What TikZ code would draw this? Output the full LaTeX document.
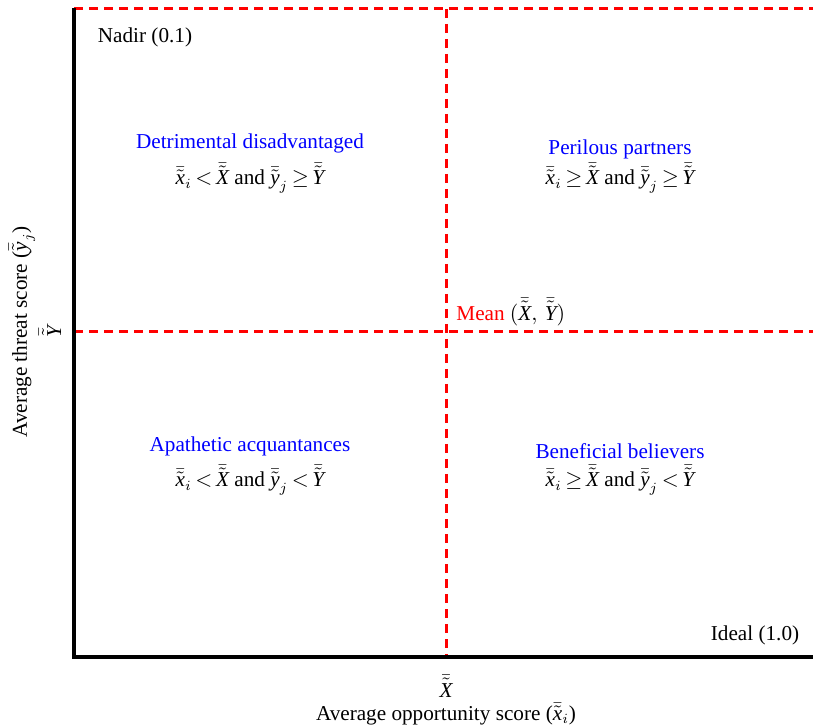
\documentclass[tikz,border=0pt]{standalone}
\usepackage{amsmath, amssymb}
\usepackage{fontspec}
\setmainfont{Liberation Serif}
\usepackage{xcolor}
\usepackage{tikz}
\usetikzlibrary{positioning, calc}
\definecolor{quadblue}{HTML}{0000FF}
\definecolor{meanred}{HTML}{FF0000}
\newcommand{\bt}[1]{\bar{\tilde{\textit{#1}}}}

\begin{document}
\begin{tikzpicture}[
  x=0.5pt, y=-0.5pt,
  every node/.style={font=\fontsize{10.6}{12.7}\selectfont, inner sep=0pt},
  axis/.style={line width=2pt, black},
  meanline/.style={line width=1.5pt, meanred, dash pattern=on 4.5pt off 3pt},
  quad/.style={text=quadblue}
]
  \useasboundingbox (0,0) rectangle (813,726);

  % axes and mean lines
  \coordinate (origin) at (74,657);
  \coordinate (ytop) at (74,8);
  \coordinate (xend) at (813,657);
  \coordinate (topl) at (74,9);
  \coordinate (topr) at (813,9);
  \coordinate (meantop) at (446,9);
  \coordinate (meanbot) at (446,657);
  \coordinate (meanl) at (74,332);
  \coordinate (meanr) at (813,332);

  \draw[meanline] (topl) -- (topr);
  \draw[meanline] (meantop) -- (meanbot);
  \draw[meanline] (meanl) -- (meanr);
  \draw[axis] (ytop) -- (origin) -- (xend);

  % corner labels
  \node (nadir) at (145,37) {Nadir (0.1)};
  \node (ideal) at (755,635) {Ideal (1.0)};
  \node[anchor=west] (mean) at (456,312) {\textcolor{meanred}{Mean} $(\bt{X},\,\bt{Y})$};

  % quadrants
  \node[quad] (detr) at (250,143) {Detrimental disadvantaged};
  \node at (250,178) (detrrule) {$\bt{x}_i\,{<}\,\bt{X}$ and $\bt{y}_j\,{\geq}\,\bt{Y}$};
  \node[quad] (peril) at (620,149) {Perilous partners};
  \node at (620,178) (perilrule) {$\bt{x}_i\,{\geq}\,\bt{X}$ and $\bt{y}_j\,{\geq}\,\bt{Y}$};
  \node[quad] (apath) at (250,446) {Apathetic acquantances};
  \node at (250,480) (apathrule) {$\bt{x}_i\,{<}\,\bt{X}$ and $\bt{y}_j\,{<}\,\bt{Y}$};
  \node[quad] (benef) at (620,451) {Beneficial believers};
  \node at (620,480) (benefrule) {$\bt{x}_i\,{\geq}\,\bt{X}$ and $\bt{y}_j\,{<}\,\bt{Y}$};

  % axis labels
  \node (xbar) at (446,686) {$\bt{X}$};
  \node (xlabel) at (446,714) {Average opportunity score ($\bt{x}_i$)};
  \node[rotate=90] (ybar) at (50,332) {$\bt{Y}$};
  \node[rotate=90] (ylabel) at (22,332) {Average threat score ($\bt{y}_j$)};
\end{tikzpicture}
\end{document}
